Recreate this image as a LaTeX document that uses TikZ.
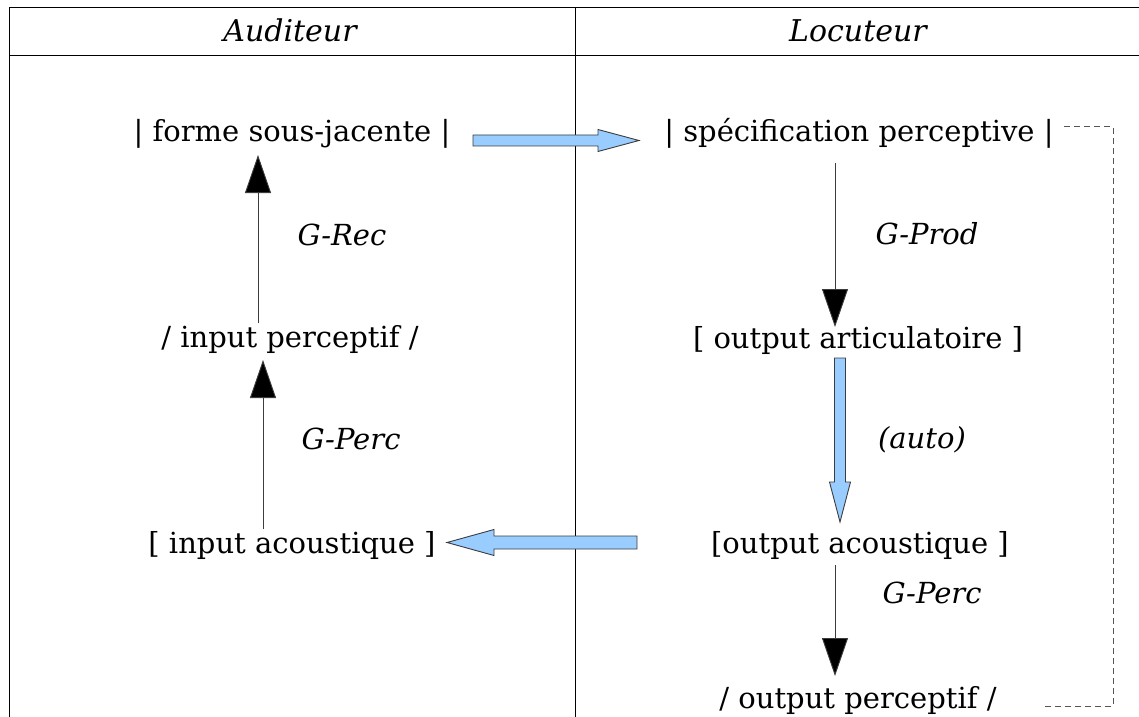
\documentclass[tikz,border=0pt]{standalone}
\usepackage{fontspec}
\setmainfont{DejaVu Serif}
\usetikzlibrary{arrows.meta,calc}
\definecolor{bluefill}{RGB}{153,204,255}
\definecolor{lineg}{RGB}{60,60,60}
\definecolor{dashg}{RGB}{85,85,85}
\newcommand\blockarrow[5]{% from, to, body half, head half, head length
  \draw[blockarr] ($(#1)!#3!90:(#2)$) -- ($($(#2)!#5!(#1)$)!#3!90:(#2)$)
     -- ($($(#2)!#5!(#1)$)!#4!90:(#2)$) -- (#2)
     -- ($($(#2)!#5!(#1)$)!#4!-90:(#2)$) -- ($($(#2)!#5!(#1)$)!#3!-90:(#2)$)
     -- ($(#1)!#3!-90:(#2)$) -- cycle;}
\tikzset{
  lbl/.style={anchor=base, inner sep=0pt, font=\fontsize{29bp}{35bp}\selectfont},
  ilbl/.style={lbl, font=\fontsize{29bp}{35bp}\selectfont\itshape},
  hlbl/.style={lbl, font=\fontsize{30bp}{36bp}\selectfont\itshape},
  frame/.style={draw=black, line width=0.9bp},
  blockarr/.style={draw=lineg, fill=bluefill, line width=0.9bp, line join=miter},
  thinarr/.style={draw=lineg, line width=0.9bp, -{Triangle[width=26bp,length=38bp,fill=black]}},
  dashline/.style={draw=dashg, line width=1bp, dash pattern=on 6bp off 4bp}
}
\begin{document}
\begin{tikzpicture}[x=1bp,y=-1bp]
\useasboundingbox (0,0) rectangle (1139,717);
% table
\coordinate (tl) at (9,7);
\coordinate (tr) at (1139,7);
\coordinate (hl) at (9,55);
\coordinate (hr) at (1139,55);
\coordinate (bl) at (9,717);
\coordinate (mt) at (575,7);
\coordinate (mb) at (575,717);
\draw[frame] (bl) -- (tl) -- (tr);
\draw[frame] (hl) -- (hr);
\draw[frame] (mt) -- (mb);
% headers
\node[hlbl] (aud) at (290,41.5) {Auditeur};
\node[hlbl] (loc) at (858,41.5) {Locuteur};
% left column
\node[lbl] (forme) at (292,142) {| forme sous-jacente |};
\node[ilbl] (grec) at (342,245) {G-Rec};
\node[lbl] (inperc) at (290,347) {/ input perceptif /};
\node[ilbl] (gpercl) at (351,449) {G-Perc};
\node[lbl] (inac) at (292,553) {[ input acoustique ]};
% right column
\node[lbl] (spec) at (859,142) {| spécification perceptive |};
\node[ilbl] (gprod) at (927,244) {G-Prod};
\node[lbl] (outart) at (858,348) {[ output articulatoire ]};
\node[ilbl] (auto) at (922,448) {(auto)};
\node[lbl] (outac) at (860,553) {[output acoustique ]};
\node[ilbl] (gpercr) at (932,603) {G-Perc};
\node[lbl] (outperc) at (858,708) {/ output perceptif /};
% black arrows
\coordinate (a1s) at (258,323); \coordinate (a1e) at (258,155);
\coordinate (a2s) at (263,529); \coordinate (a2e) at (263,360);
\coordinate (a3s) at (835,163); \coordinate (a3e) at (835,327);
\coordinate (a4s) at (835,565); \coordinate (a4e) at (835,676);
\draw[thinarr] (a1s) -- (a1e);
\draw[thinarr] (a2s) -- (a2e);
\draw[thinarr] (a3s) -- (a3e);
\draw[thinarr] (a4s) -- (a4e);
% blue block arrows
\coordinate (b1s) at (473,140.5); \coordinate (b1e) at (639,140.5);
\coordinate (b2s) at (637,542.5); \coordinate (b2e) at (447,542.5);
\coordinate (b3s) at (840,358); \coordinate (b3e) at (840,522);
\blockarrow{b1s}{b1e}{5.5bp}{11bp}{41bp}
\blockarrow{b2s}{b2e}{6.5bp}{13bp}{47bp}
\blockarrow{b3s}{b3e}{5.5bp}{10.5bp}{40bp}
% dashed feedback
\coordinate (d1) at (1064,127);
\coordinate (d2) at (1113,127);
\coordinate (d3) at (1113,706);
\coordinate (d4) at (1041,706);
\draw[dashline] (d1) -- (d2) -- (d3) -- (d4);
\end{tikzpicture}
\end{document}
